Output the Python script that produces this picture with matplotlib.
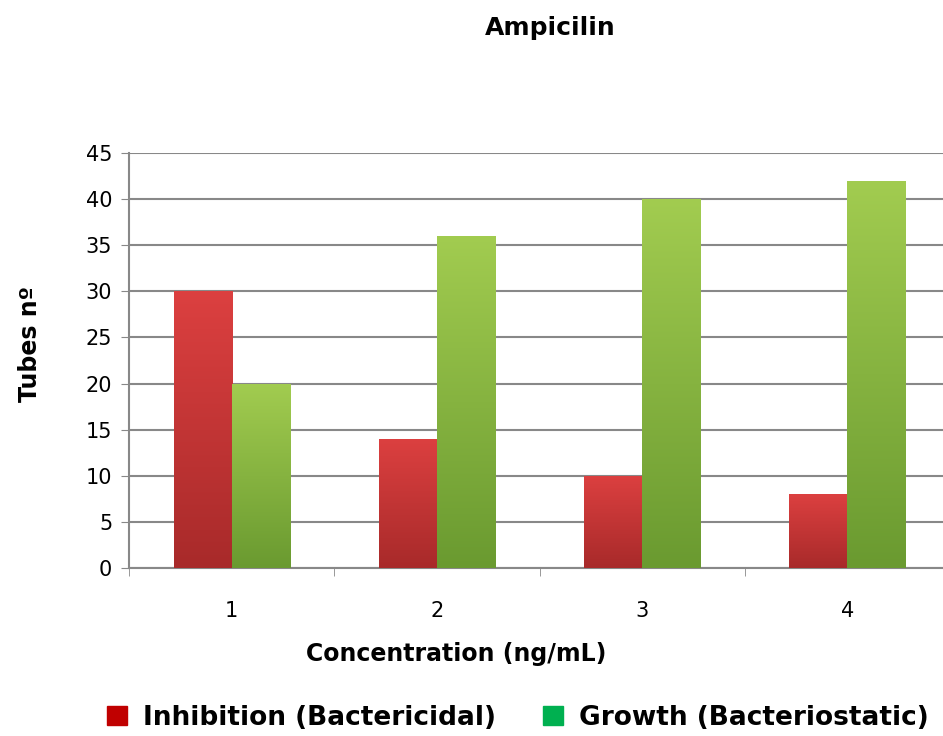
import numpy as np
import matplotlib.pyplot as plt
from matplotlib.colors import LinearSegmentedColormap
from matplotlib.patches import Patch

concentrations = ['1', '2', '3', '4']
inhibition = [30, 14, 10, 8]
growth = [20, 36, 40, 42]

red_cmap = LinearSegmentedColormap.from_list('red', ['#a82a2a', '#dc4040'])
green_cmap = LinearSegmentedColormap.from_list('green', ['#6a9a30', '#a2cc50'])

fig = plt.figure(figsize=(9.43, 7.36), dpi=100)
ax = fig.add_axes([129 / 943, 1 - 568 / 736, (950 - 129) / 943, (568 - 153) / 736])

x = np.arange(1, len(concentrations) + 1)
w = 0.283
grad = np.linspace(0, 1, 256).reshape(-1, 1)


def gradient_bars(xs, heights, cmap):
    bars = ax.bar(xs, heights, width=w, color='none', edgecolor='none', zorder=3)
    for b in bars:
        x0, y0 = b.get_x(), b.get_y()
        im = ax.imshow(grad, cmap=cmap, aspect='auto', origin='lower',
                       extent=(x0, x0 + b.get_width(), y0, y0 + b.get_height()),
                       zorder=3)
        im.set_clip_path(b)
    return bars


gradient_bars(x - w / 2, inhibition, red_cmap)
gradient_bars(x + w / 2, growth, green_cmap)

ax.set_xlim(0.5, 4.5)
ax.set_ylim(0, 45)
ax.set_yticks(range(0, 46, 5))
ax.set_xticks(x)
ax.set_xticklabels(concentrations)
ax.set_xticks(np.arange(0.5, 5, 1), minor=True)
ax.tick_params(axis='x', which='major', length=0, pad=24, labelsize=15)
ax.tick_params(axis='x', which='minor', length=6, color='#888888', direction='out')
ax.tick_params(axis='y', length=6, color='#888888', labelsize=15, pad=6)
ax.grid(axis='y', color='#888888', linewidth=1.5, zorder=0)
ax.set_axisbelow(True)
for s in ['top', 'right']:
    ax.spines[s].set_visible(False)
for s in ['left', 'bottom']:
    ax.spines[s].set_color('#888888')
    ax.spines[s].set_linewidth(1.5)

ax.set_ylabel('Tubes nº', fontsize=17, fontweight='bold')
ax.yaxis.set_label_coords(-0.106, 0.54)
ax.set_xlabel('Concentration (ng/mL)', fontsize=17, fontweight='bold')
ax.xaxis.set_label_coords(0.398, -0.178)
fig.text(550 / 943, 1 - 28 / 736, 'Ampicilin', ha='center', va='center',
         fontsize=18, fontweight='bold')

handles = [Patch(color='#c00000'), Patch(color='#00b050')]
fig.legend(handles, ['Inhibition (Bactericidal)', 'Growth (Bacteriostatic)'],
           loc='center', bbox_to_anchor=(518 / 943, 1 - 718 / 736), ncol=2,
           frameon=False, prop={'size': 19, 'weight': 'bold'},
           handlelength=0.75, handleheight=0.75, handletextpad=0.6, columnspacing=1.8)

fig.savefig('out.png', dpi=100)
